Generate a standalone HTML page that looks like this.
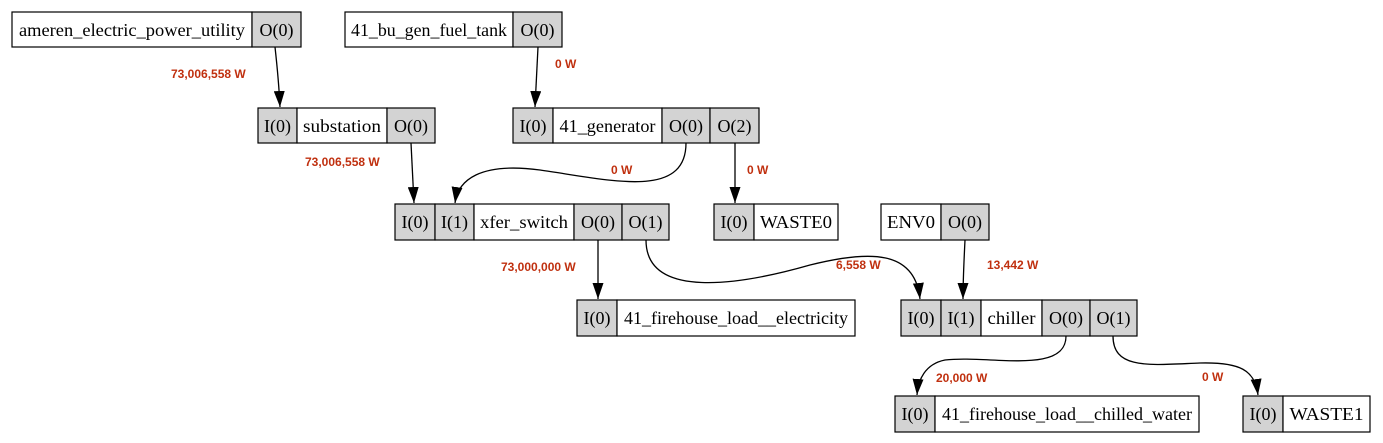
<!DOCTYPE html>
<html><head><meta charset="utf-8"><style>
html,body{margin:0;padding:0;background:#fff;}
svg{display:block;}
.t{font-family:"Liberation Serif",serif;font-size:18px;fill:#000;}
.l{font-family:"Liberation Sans",sans-serif;font-size:12px;font-weight:bold;fill:#c0300f;}
.g{fill:#d3d3d3;stroke:#000;stroke-width:1.2;}
.w{fill:#fff;stroke:#000;stroke-width:1.2;}
.e{fill:none;stroke:#000;stroke-width:1.3;}
</style></head><body>
<svg width="1383" height="443" viewBox="0 0 1383 443" xmlns="http://www.w3.org/2000/svg">
<defs><marker id="a" viewBox="0 0 16 11" refX="16" refY="5.5" markerWidth="16" markerHeight="11" markerUnits="userSpaceOnUse" orient="auto"><path d="M0,0 L16,5.5 L0,11 z" fill="#000"/></marker></defs>
<g>
<rect class="w" x="12" y="12" width="240" height="35"/><rect class="g" x="252" y="12" width="49" height="35"/>
<text class="t" x="132" y="36" text-anchor="middle" textLength="226" lengthAdjust="spacingAndGlyphs">ameren_electric_power_utility</text><text class="t" x="276.5" y="36" text-anchor="middle">O(0)</text>

<rect class="w" x="345" y="12" width="168" height="35"/><rect class="g" x="513" y="12" width="49" height="35"/>
<text class="t" x="429" y="36" text-anchor="middle" textLength="156" lengthAdjust="spacingAndGlyphs">41_bu_gen_fuel_tank</text><text class="t" x="537.5" y="36" text-anchor="middle">O(0)</text>

<rect class="g" x="258" y="108" width="39" height="35"/><rect class="w" x="297" y="108" width="90" height="35"/><rect class="g" x="387" y="108" width="48" height="35"/>
<text class="t" x="277.5" y="132" text-anchor="middle">I(0)</text><text class="t" x="342" y="132" text-anchor="middle" textLength="78" lengthAdjust="spacingAndGlyphs">substation</text><text class="t" x="411" y="132" text-anchor="middle">O(0)</text>

<rect class="g" x="513" y="108" width="40" height="35"/><rect class="w" x="553" y="108" width="109" height="35"/><rect class="g" x="662" y="108" width="48" height="35"/><rect class="g" x="710" y="108" width="49" height="35"/>
<text class="t" x="533" y="132" text-anchor="middle">I(0)</text><text class="t" x="607.5" y="132" text-anchor="middle" textLength="96" lengthAdjust="spacingAndGlyphs">41_generator</text><text class="t" x="686" y="132" text-anchor="middle">O(0)</text><text class="t" x="734.5" y="132" text-anchor="middle">O(2)</text>

<rect class="g" x="395" y="204" width="40" height="36"/><rect class="g" x="435" y="204" width="39" height="36"/><rect class="w" x="474" y="204" width="100" height="36"/><rect class="g" x="574" y="204" width="48" height="36"/><rect class="g" x="622" y="204" width="47" height="36"/>
<text class="t" x="415" y="228" text-anchor="middle">I(0)</text><text class="t" x="454.5" y="228" text-anchor="middle">I(1)</text><text class="t" x="524" y="228" text-anchor="middle" textLength="88" lengthAdjust="spacingAndGlyphs">xfer_switch</text><text class="t" x="598" y="228" text-anchor="middle">O(0)</text><text class="t" x="645.5" y="228" text-anchor="middle">O(1)</text>

<rect class="g" x="714" y="204" width="40" height="36"/><rect class="w" x="754" y="204" width="84" height="36"/>
<text class="t" x="734" y="228" text-anchor="middle">I(0)</text><text class="t" x="796" y="228" text-anchor="middle" textLength="72" lengthAdjust="spacingAndGlyphs">WASTE0</text>

<rect class="w" x="881" y="204" width="60" height="36"/><rect class="g" x="941" y="204" width="48" height="36"/>
<text class="t" x="911" y="228" text-anchor="middle" textLength="48" lengthAdjust="spacingAndGlyphs">ENV0</text><text class="t" x="965" y="228" text-anchor="middle">O(0)</text>

<rect class="g" x="577" y="300" width="40" height="36"/><rect class="w" x="617" y="300" width="238" height="36"/>
<text class="t" x="597" y="324" text-anchor="middle">I(0)</text><text class="t" x="736" y="324" text-anchor="middle" textLength="224" lengthAdjust="spacingAndGlyphs">41_firehouse_load__electricity</text>

<rect class="g" x="901" y="300" width="40" height="36"/><rect class="g" x="941" y="300" width="40" height="36"/><rect class="w" x="981" y="300" width="61" height="36"/><rect class="g" x="1042" y="300" width="48" height="36"/><rect class="g" x="1090" y="300" width="47" height="36"/>
<text class="t" x="921" y="324" text-anchor="middle">I(0)</text><text class="t" x="961" y="324" text-anchor="middle">I(1)</text><text class="t" x="1011.5" y="324" text-anchor="middle" textLength="48" lengthAdjust="spacingAndGlyphs">chiller</text><text class="t" x="1066" y="324" text-anchor="middle">O(0)</text><text class="t" x="1113.5" y="324" text-anchor="middle">O(1)</text>

<rect class="g" x="895" y="396" width="40" height="36"/><rect class="w" x="935" y="396" width="264" height="36"/>
<text class="t" x="915" y="420" text-anchor="middle">I(0)</text><text class="t" x="1067" y="420" text-anchor="middle" textLength="250" lengthAdjust="spacingAndGlyphs">41_firehouse_load__chilled_water</text>

<rect class="g" x="1243" y="396" width="40" height="36"/><rect class="w" x="1283" y="396" width="87" height="36"/>
<text class="t" x="1263" y="420" text-anchor="middle">I(0)</text><text class="t" x="1326.5" y="420" text-anchor="middle" textLength="74" lengthAdjust="spacingAndGlyphs">WASTE1</text>
</g>
<path class="e" marker-end="url(#a)" d="M275,47 C277,65 279,85 280,107"/>
<path class="e" marker-end="url(#a)" d="M538,47 C537,65 536,85 535,107"/>
<path class="e" marker-end="url(#a)" d="M411,143 C412,162 413,182 414,203"/>
<path class="e" marker-end="url(#a)" d="M686,143 C686,200 610,180 540,170 C480,162 458,180 455,203"/>
<path class="e" marker-end="url(#a)" d="M735,143 L735,203"/>
<path class="e" marker-end="url(#a)" d="M965,240 C964,260 963,280 963,299"/>
<path class="e" marker-end="url(#a)" d="M598,240 L598,299"/>
<path class="e" marker-end="url(#a)" d="M646,240 C646,300 740,285 810,265 C870,250 915,250 920,299"/>
<path class="e" marker-end="url(#a)" d="M1066,336 C1066,375 990,355 945,360 C925,364 918,380 917,395"/>
<path class="e" marker-end="url(#a)" d="M1113,336 C1113,370 1150,365 1200,363 C1240,362 1255,370 1258,395"/>
<text class="l" x="171" y="78">73,006,558 W</text>
<text class="l" x="555" y="68">0 W</text>
<text class="l" x="305" y="166">73,006,558 W</text>
<text class="l" x="611" y="174">0 W</text>
<text class="l" x="747" y="174">0 W</text>
<text class="l" x="501" y="271">73,000,000 W</text>
<text class="l" x="836" y="269">6,558 W</text>
<text class="l" x="987" y="269">13,442 W</text>
<text class="l" x="936" y="382">20,000 W</text>
<text class="l" x="1202" y="381">0 W</text>
</svg>
</body></html>
